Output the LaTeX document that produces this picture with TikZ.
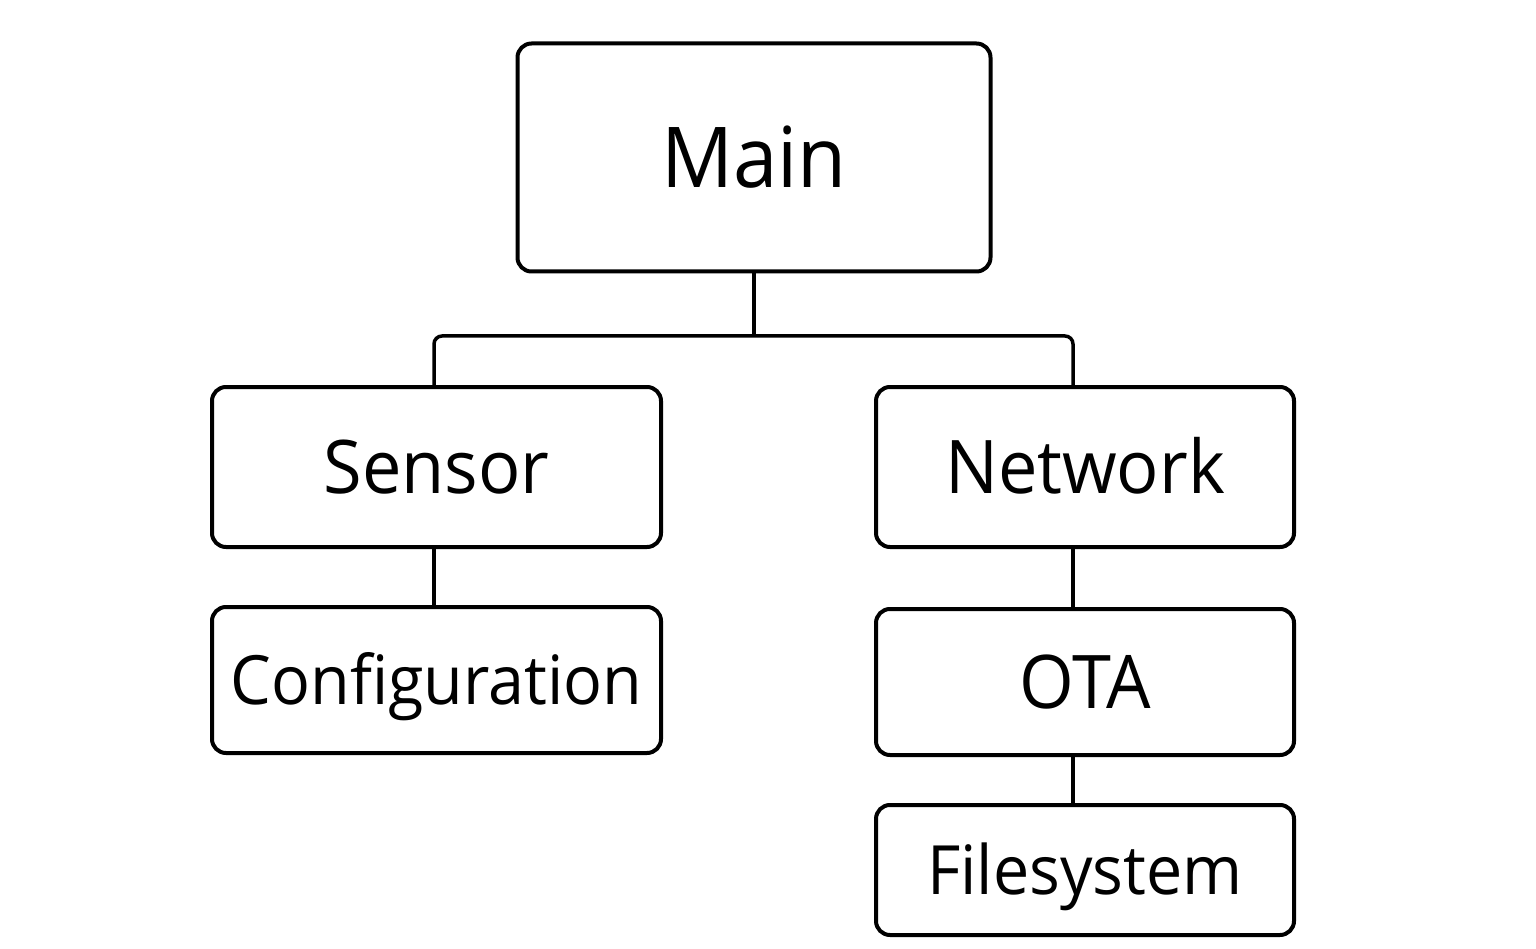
\documentclass[tikz,border=0pt]{standalone}
\usepackage{fontspec}
\setmainfont{Open Sans}[FakeStretch=0.95]
\begin{document}
\begin{tikzpicture}[x=1pt,y=-1pt,
  box/.style={draw,line width=4pt,rounded corners=14pt,inner sep=0pt,text depth=0pt},
  conn/.style={line width=3.5pt,rounded corners=8pt}]
\useasboundingbox (0,0) rectangle (1536,949);
\node[box,minimum width=473pt,minimum height=228pt,text height=60pt,font=\fontsize{84}{84}\selectfont] (Main) at (754,157.5) {Main};
\node[box,minimum width=449pt,minimum height=160pt,text height=53pt,font=\fontsize{74}{74}\selectfont] (Sensor) at (436.5,467) {Sensor};
\node[box,minimum width=418pt,minimum height=160pt,text height=53pt,font=\fontsize{74}{74}\selectfont] (Network) at (1085,467) {Network};
\node[box,minimum width=449pt,minimum height=146pt,text height=48.5pt,font=\fontsize{68}{68}\selectfont] (Config) at (436.5,680) {Configuration};
\node[box,minimum width=418pt,minimum height=146pt,text height=53pt,font=\fontsize{74}{74}\selectfont] (OTA) at (1085,682) {OTA};
\node[box,minimum width=418pt,minimum height=130pt,text height=48.5pt,font=\fontsize{68}{68}\selectfont] (FS) at (1085,870) {Filesystem};
\coordinate (bus) at (754,336);
\draw[conn] (Main.south) -- (bus);
\draw[conn] ([xshift=-2.5pt]Sensor.north) |- (bus) -| ([xshift=-12pt]Network.north);
\draw[conn] ([xshift=-2.5pt]Sensor.south) -- ([xshift=-2.5pt]Config.north);
\draw[conn] ([xshift=-12pt]Network.south) -- ([xshift=-12pt]OTA.north);
\draw[conn] ([xshift=-12pt]OTA.south) -- ([xshift=-12pt]FS.north);
\end{tikzpicture}
\end{document}
